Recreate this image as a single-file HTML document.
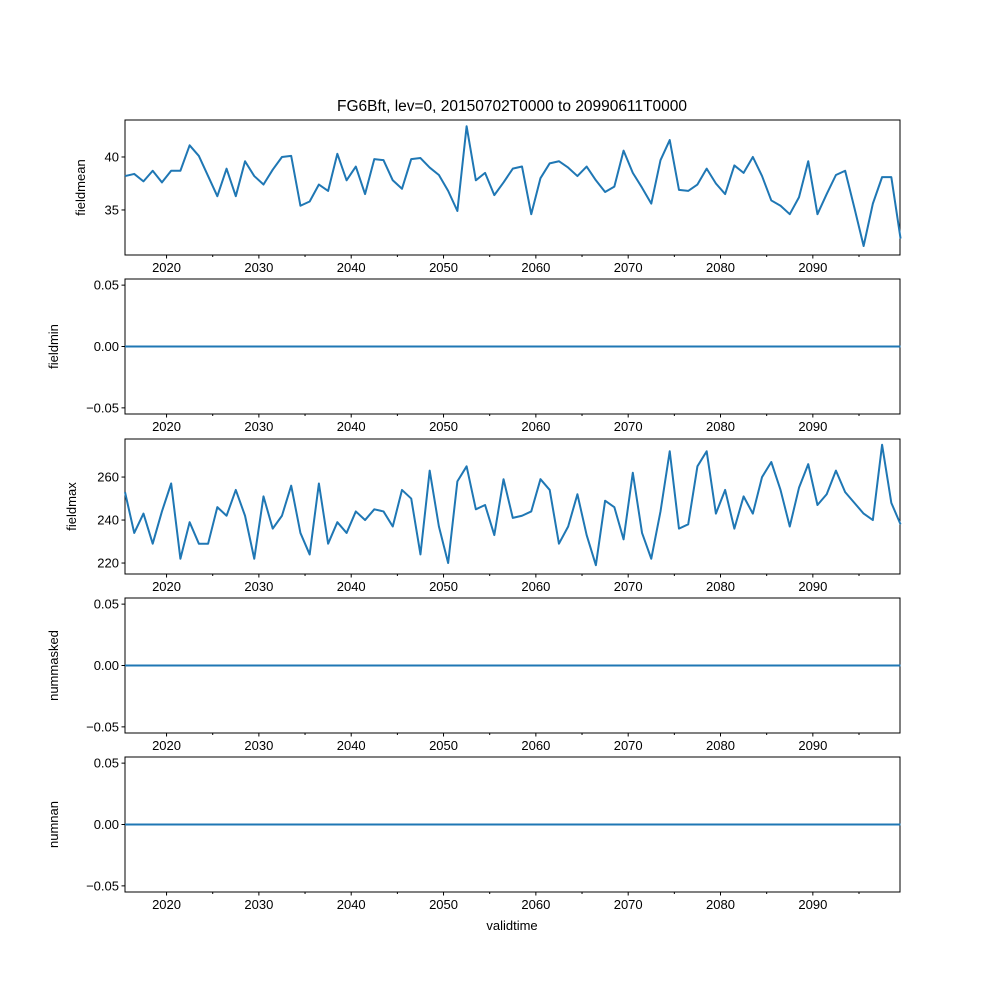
<!DOCTYPE html>
<html><head><meta charset="utf-8"><style>
body{margin:0;background:#fff}
svg text{font-family:"Liberation Sans","DejaVu Sans",sans-serif;font-size:13px;fill:#000}
</style></head><body>
<svg id="fig" width="1000" height="1000" xmlns="http://www.w3.org/2000/svg">
<text x="512" y="111" text-anchor="middle" style="font-size:15.5px">FG6Bft, lev=0, 20150702T0000 to 20990611T0000</text>
<text x="512" y="930" text-anchor="middle">validtime</text>
</svg>
<script>
const years = Array.from({length:85},(_, i)=>2015+i);
const fieldmean = [38.2,38.4,37.7,38.7,37.6,38.7,38.7,41.1,40.1,38.2,36.3,38.9,36.3,39.6,38.2,37.4,38.8,40.0,40.1,35.4,35.8,37.4,36.8,40.3,37.8,39.1,36.5,39.8,39.7,37.8,37.0,39.8,39.9,39.0,38.3,36.8,34.9,42.9,37.8,38.5,36.4,37.6,38.9,39.1,34.6,38.0,39.4,39.6,39.0,38.2,39.1,37.8,36.7,37.2,40.6,38.5,37.1,35.6,39.7,41.6,36.9,36.8,37.4,38.9,37.5,36.5,39.2,38.5,40.0,38.2,35.9,35.4,34.6,36.2,39.6,34.6,36.5,38.3,38.7,35.2,31.6,35.6,38.1,38.1,32.3];
const fieldmax = [253,234,243,229,244,257,222,239,229,229,246,242,254,242,222,251,236,242,256,234,224,257,229,239,234,244,240,245,244,237,254,250,224,263,237,220,258,265,245,247,233,259,241,242,244,259,254,229,237,252,233,219,249,246,231,262,234,222,244,272,236,238,265,272,243,254,236,251,243,260,267,254,237,255,266,247,252,263,253,248,243,240,275,248,238];
const fieldmin = years.map(()=>0);
const nummasked = years.map(()=>0);
const numnan = years.map(()=>0);
const xTicks = [2020,2030,2040,2050,2060,2070,2080,2090];
const xMinor = [2025,2035,2045,2055,2065,2075,2085,2095];
const panels = [
 {name:'fieldmean',data:fieldmean,top:120,ymin:30.75,ymax:43.49,ticks:[35,40],fmt:v=>String(v)},
 {name:'fieldmin',data:fieldmin,top:279,ymin:-0.055,ymax:0.055,ticks:[-0.05,0,0.05],fmt:v=>(v<0?'\u22120.05':v.toFixed(2))},
 {name:'fieldmax',data:fieldmax,top:439,ymin:214.9,ymax:277.7,ticks:[220,240,260],fmt:v=>String(v)},
 {name:'nummasked',data:nummasked,top:598,ymin:-0.055,ymax:0.055,ticks:[-0.05,0,0.05],fmt:v=>(v<0?'\u22120.05':v.toFixed(2))},
 {name:'numnan',data:numnan,top:757,ymin:-0.055,ymax:0.055,ticks:[-0.05,0,0.05],fmt:v=>(v<0?'\u22120.05':v.toFixed(2))}
];
const L=125,R=900,H=135,NS='http://www.w3.org/2000/svg';
const x0=2015.5,x1=2099.44;
const xs=t=>L+(t-x0)/(x1-x0)*(R-L);
const svg=document.getElementById('fig');
function mk(tag,attrs){const e=document.createElementNS(NS,tag);for(const k in attrs)e.setAttribute(k,attrs[k]);svg.appendChild(e);return e;}
panels.forEach(p=>{
 const ys=v=>p.top+H-(v-p.ymin)/(p.ymax-p.ymin)*H;
 const g=mk('rect',{x:L,y:p.top,width:R-L,height:H,fill:'none',stroke:'#000','stroke-width':1});
 
 
 const pts=p.data.map((v,i)=>xs(years[i]+0.5).toFixed(2)+','+ys(v).toFixed(2)).join(' ');
 const line=mk('polyline',{points:pts,fill:'none',stroke:'#1f77b4','stroke-width':2,'stroke-linejoin':'round'});
 
 
 const b=p.top+H;
 xTicks.forEach(t=>{
  const X=xs(t);
  mk('line',{x1:X,x2:X,y1:b,y2:b+3.5,stroke:'#000'});
  const tx=mk('text',{x:X,y:b+17,'text-anchor':'middle'});tx.textContent=t;
  
  
 });
 xMinor.forEach(t=>{const X=xs(t);mk('line',{x1:X,x2:X,y1:b,y2:b+2,stroke:'#000'});});
 p.ticks.forEach(v=>{
  const Y=ys(v);
  mk('line',{x1:L-3.5,x2:L,y1:Y,y2:Y,stroke:'#000'});
  const tx=mk('text',{x:L-6,y:Y+4.5,'text-anchor':'end'});tx.textContent=p.fmt(v);
  
  
 });
 const maxw=p.ticks.map(p.fmt).reduce((a,s)=>Math.max(a,s.length),0);
 const lx=L-22-maxw*9;
 const yt=mk('text',{x:lx,y:p.top+H/2,'text-anchor':'middle',transform:`rotate(-90 ${lx} ${p.top+H/2})`});
 yt.textContent=p.name;
 
 
});
</script>
</body></html>
